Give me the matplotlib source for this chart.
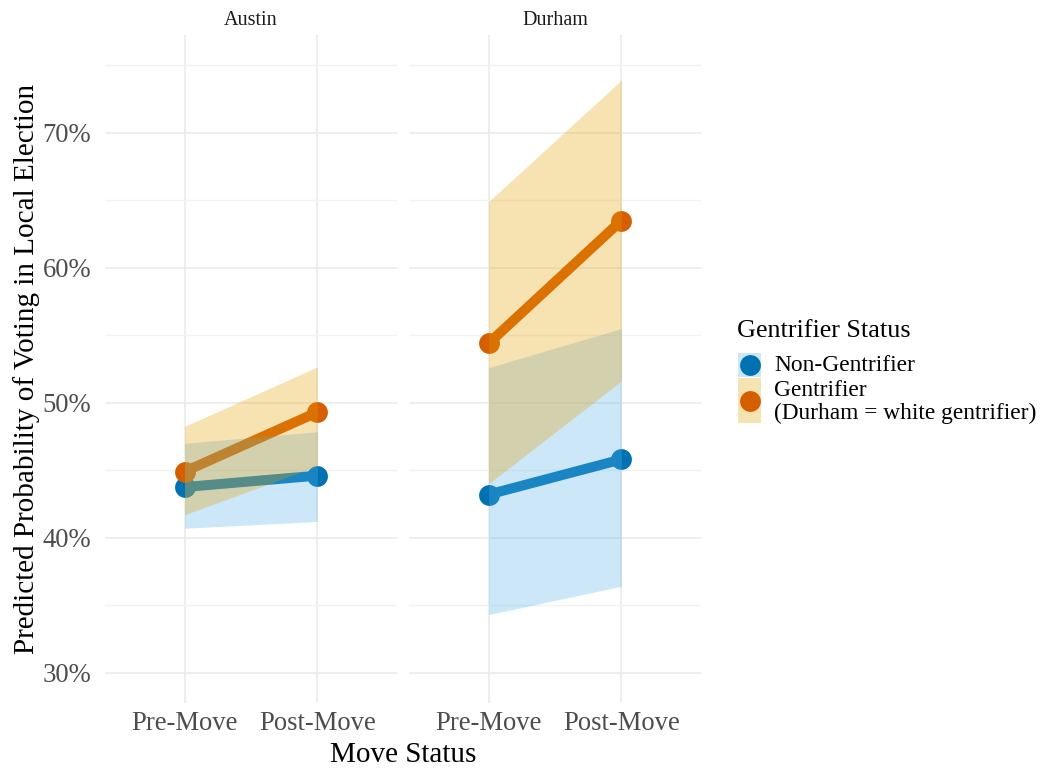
#!/usr/bin/env python3
import matplotlib
matplotlib.use('Agg')
import matplotlib.pyplot as plt
from matplotlib.patches import Rectangle
from matplotlib.lines import Line2D
from matplotlib.ticker import FuncFormatter, MultipleLocator

# data (percent)
cities = ['Austin', 'Durham']
moves = ['Pre-Move', 'Post-Move']
groups = ['Non-Gentrifier', 'Gentrifier\n(Durham = white gentrifier)']

austin_non_est = [43.75, 44.6]
austin_non_lo = [40.7, 41.2]
austin_non_hi = [47.0, 47.85]
austin_gen_est = [44.9, 49.3]
austin_gen_lo = [41.7, 45.3]
austin_gen_hi = [48.25, 52.65]

durham_non_est = [43.2, 45.8]
durham_non_lo = [34.3, 36.4]
durham_non_hi = [52.6, 55.5]
durham_gen_est = [54.4, 63.5]
durham_gen_lo = [44.0, 51.6]
durham_gen_hi = [64.9, 73.9]

line_colors = ['#0072B2', '#D55E00']
fill_colors = ['#56B4E9', '#E69F00']

plt.rcParams['font.family'] = ['Liberation Serif', 'DejaVu Serif']

fig = plt.figure(figsize=(10.4, 7.68), dpi=100)
W, H = 1040, 768

panel_data = {
    'Austin': [(austin_non_est, austin_non_lo, austin_non_hi),
               (austin_gen_est, austin_gen_lo, austin_gen_hi)],
    'Durham': [(durham_non_est, durham_non_lo, durham_non_hi),
               (durham_gen_est, durham_gen_lo, durham_gen_hi)],
}
panel_left = [105, 409]
panel_w = 292
top, bottom = 35, 703

axes = []
for i, city in enumerate(cities):
    ax = fig.add_axes([panel_left[i] / W, (H - bottom) / H, panel_w / W, (bottom - top) / H])
    axes.append(ax)
    x = [1, 2]
    for g, (est, lo, hi) in enumerate(panel_data[city]):
        ax.plot(x, est, color=line_colors[g], lw=7.2, zorder=2, solid_capstyle='butt')
        ax.plot(x, est, 'o', color=line_colors[g], ms=15, mew=0, zorder=2)
    # ribbons sit on top of the lines, as in the original
    for g, (est, lo, hi) in enumerate(panel_data[city]):
        ax.fill_between(x, lo, hi, color=fill_colors[g], alpha=0.3, lw=0, zorder=3)

    ax.set_xlim(0.4, 2.6)
    ax.set_ylim(27.75, 77.25)
    ax.yaxis.set_major_locator(MultipleLocator(10))
    ax.yaxis.set_minor_locator(MultipleLocator(5))
    ax.set_xticks(x)
    ax.set_xticklabels(moves)
    ax.grid(True, which='major', color='#EBEBEB', lw=1.2, zorder=0)
    ax.grid(True, which='minor', axis='y', color='#F2F2F2', lw=1.0, zorder=0)
    ax.set_axisbelow(True)
    for s in ax.spines.values():
        s.set_visible(False)
    ax.tick_params(axis='x', length=0, labelsize=19.2, labelcolor='#4D4D4D', pad=6)
    ax.tick_params(axis='y', length=0, labelsize=19.2, labelcolor='#4D4D4D', pad=10)
    ax.tick_params(which='minor', length=0)
    if i == 0:
        ax.yaxis.set_major_formatter(FuncFormatter(lambda v, p: f'{v:.0f}%'))
    else:
        ax.tick_params(labelleft=False)
    ax.set_title(city, fontsize=14.5, color='#1A1A1A', pad=7)

axes[0].set_ylabel('Predicted Probability of Voting in Local Election', fontsize=21, labelpad=2)
fig.text((105 + 701) / 2 / W, 1 - 755 / H, 'Move Status', fontsize=21, ha='center', va='center')

# legend drawn by hand (second key is stretched over two text lines)
fig.text(737 / W, 1 - 331 / H, 'Gentrifier Status', fontsize=18.8, ha='left', va='center')
key_boxes = [(353, 377), (378, 423)]
label_y = [365, 402]
for g in range(2):
    y0, y1 = key_boxes[g]
    fig.add_artist(Rectangle((738 / W, 1 - y1 / H), 23 / W, (y1 - y0) / H,
                             transform=fig.transFigure, color=fill_colors[g], alpha=0.3, lw=0))
    cy = (y0 + y1) / 2
    fig.add_artist(Line2D([749.5 / W], [1 - cy / H], marker='o', color=line_colors[g],
                          ms=15, mew=0, transform=fig.transFigure))
    fig.text(774 / W, 1 - label_y[g] / H, groups[g], fontsize=16.8, ha='left', va='center',
             linespacing=1.12)

plt.savefig('out.png', dpi=100)
